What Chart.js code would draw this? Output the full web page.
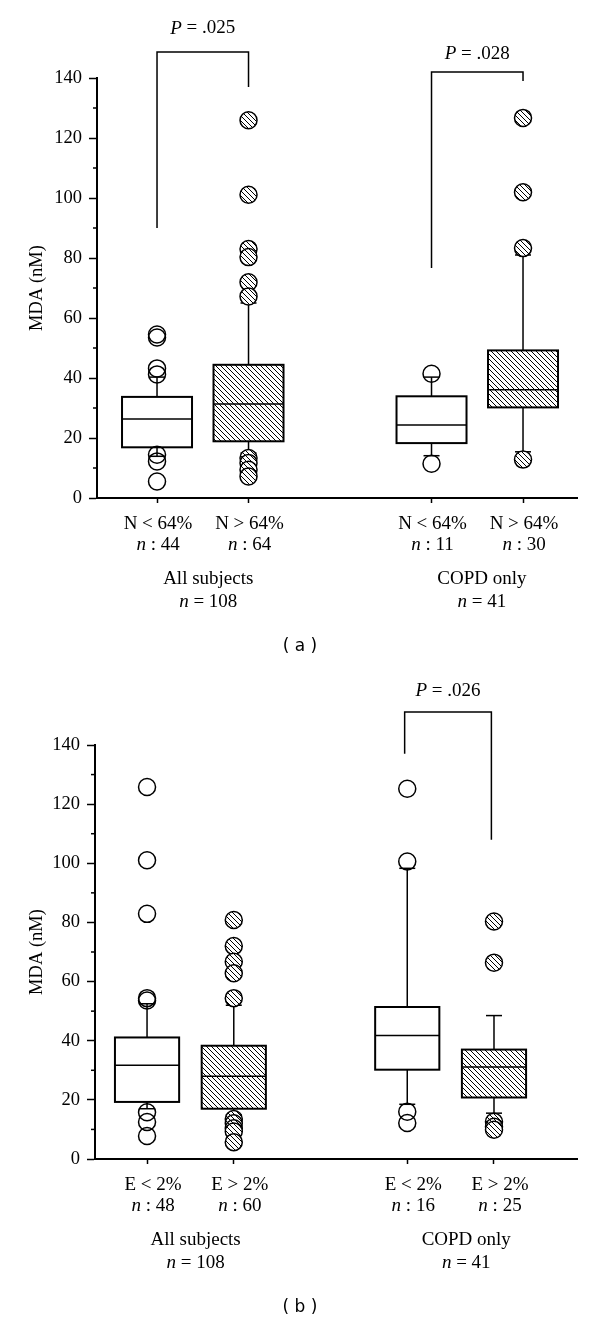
<!DOCTYPE html>
<html>
<head>
<meta charset="utf-8">
<script src="https://cdn.jsdelivr.net/npm/chart.js@4.4.1/dist/chart.umd.min.js"></script>
<style>
  html, body { margin: 0; padding: 0; background: #fff; }
  #wrap { position: relative; width: 600px; height: 1324px; }
  canvas { position: absolute; left: 0; }
</style>
</head>
<body>
<div id="wrap">
  <canvas id="chartA" width="600" height="660" style="top:0"></canvas>
  <canvas id="chartB" width="600" height="664" style="top:660px"></canvas>
</div>
<script>
// shared
const positions = [1, 2, 4, 5];
const yMajorTicks = [0, 20, 40, 60, 80, 100, 120, 140];
const groupLabels = ['All subjects', 'COPD only'];
const groupCounts = [108, 41];

// panel (a)
const catLabelsA = ['N < 64%', 'N > 64%', 'N < 64%', 'N > 64%'];
const catCountsA = [44, 64, 11, 30];
const q1A = [16.9, 18.9, 18.3, 30.2];
const medianA = [26.3, 31.3, 24.3, 36.1];
const q3A = [33.7, 44.4, 33.9, 49.2];
const whiskerLoA = [13.9, 15.0, 14.1, 15.4];
const whiskerHiA = [40.3, 65.0, 40.3, 81.0];
const outliersA = [
  [54.5, 53.5, 43.2, 41.2, 14.4, 12.2, 5.5],
  [125.9, 101.1, 83.0, 80.3, 71.9, 67.2, 13.3, 11.7, 9.4, 7.2],
  [41.4, 11.4],
  [126.7, 101.9, 83.3, 12.8]
];
const pValuesA = ['.025', '.028'];

// panel (b)
const catLabelsB = ['E < 2%', 'E > 2%', 'E < 2%', 'E > 2%'];
const catCountsB = [48, 60, 16, 25];
const q1B = [19.3, 17.0, 30.2, 20.8];
const medianB = [31.7, 28.0, 41.8, 31.1];
const q3B = [41.1, 38.3, 51.4, 37.0];
const whiskerLoB = [17.0, 15.0, 18.5, 15.5];
const whiskerHiB = [52.5, 52.0, 98.3, 48.5];
const outliersB = [
  [125.8, 101.0, 82.9, 54.4, 53.6, 15.8, 12.5, 7.8],
  [80.8, 72.0, 66.7, 62.8, 54.4, 13.5, 12.1, 10.4, 9.3, 5.7],
  [125.2, 100.6, 16.0, 12.2],
  [80.3, 66.4, 12.6, 10.9, 9.9]
];
const pValuesB = ['.026'];

const SERIF = '"Liberation Serif", "Times New Roman", serif';
Chart.defaults.color = '#000';

function makeHatch() {
    const c = document.createElement('canvas');
    c.width = 5; c.height = 5;
    const g = c.getContext('2d');
    g.fillStyle = '#fff';
    g.fillRect(0, 0, 5, 5);
    g.strokeStyle = '#000';
    g.lineWidth = 1;
    g.beginPath();
    g.moveTo(-1, -1); g.lineTo(6, 6);
    g.moveTo(4, -1); g.lineTo(6, 1);
    g.moveTo(-1, 4); g.lineTo(1, 6);
    g.stroke();
    return g.createPattern(c, 'repeat');
}
const hatch = makeHatch();

function line(ctx, x1, y1, x2, y2) {
    ctx.beginPath();
    ctx.moveTo(x1, y1);
    ctx.lineTo(x2, y2);
    ctx.stroke();
}

// draws text made of [text, font] pieces centred on cx
function drawMixed(ctx, parts, cx, cy) {
    let total = 0;
    parts.forEach(([t, f]) => { ctx.font = f; total += ctx.measureText(t).width; });
    let x = cx - total / 2;
    ctx.textAlign = 'left';
    ctx.textBaseline = 'middle';
    parts.forEach(([t, f]) => {
        ctx.font = f;
        ctx.fillText(t, x, cy);
        x += ctx.measureText(t).width;
    });
}

function boxPlugin(p) {
    return {
        id: 'boxes',
        beforeDatasetsDraw(chart) {
            const ctx = chart.ctx;
            const xs = chart.scales.x, ys = chart.scales.y;
            ctx.save();
            ctx.strokeStyle = '#000';
            positions.forEach((pos, i) => {
                const x = xs.getPixelForValue(pos);
                const left = xs.getPixelForValue(pos - p.boxWidth / 2);
                const right = xs.getPixelForValue(pos + p.boxWidth / 2);
                const yq1 = ys.getPixelForValue(p.q1[i]);
                const yq3 = ys.getPixelForValue(p.q3[i]);
                const ymed = ys.getPixelForValue(p.median[i]);
                const ylo = ys.getPixelForValue(p.lo[i]);
                const yhi = ys.getPixelForValue(p.hi[i]);
                ctx.lineWidth = 1.5;
                line(ctx, x, yq3, x, yhi);
                line(ctx, x, yq1, x, ylo);
                line(ctx, x - 8, yhi, x + 8, yhi);
                line(ctx, x - 8, ylo, x + 8, ylo);
                ctx.fillStyle = i % 2 ? hatch : '#fff';
                ctx.fillRect(left, yq3, right - left, yq1 - yq3);
                ctx.lineWidth = 2;
                ctx.strokeRect(left, yq3, right - left, yq1 - yq3);
                ctx.lineWidth = 1.5;
                line(ctx, left, ymed, right, ymed);
            });
            ctx.restore();
        },
        afterDraw(chart) {
            const ctx = chart.ctx;
            const xs = chart.scales.x, ys = chart.scales.y;
            const bottom = chart.chartArea.bottom;
            const roman = '19px ' + SERIF, ital = 'italic 19px ' + SERIF;
            ctx.save();
            ctx.fillStyle = '#000';
            ctx.strokeStyle = '#000';

            // minor y ticks
            ctx.lineWidth = 1.5;
            ys.ticks.forEach(t => {
                if (!yMajorTicks.includes(t.value)) {
                    const y = ys.getPixelForValue(t.value);
                    line(ctx, xs.left - 4, y, xs.left, y);
                }
            });

            // category labels
            positions.forEach((pos, i) => {
                const x = xs.getPixelForValue(pos) + p.labelShift;
                drawMixed(ctx, [[p.labels[i], roman]], x, bottom + 26);
                drawMixed(ctx, [['n', ital], [' : ' + p.counts[i], roman]], x, bottom + 47);
            });
            groupLabels.forEach((g, i) => {
                const x = xs.getPixelForValue(p.groupPos[i]);
                drawMixed(ctx, [[g, roman]], x, bottom + 81);
                drawMixed(ctx, [['n', ital], [' = ' + groupCounts[i], roman]], x, bottom + 104);
            });
            drawMixed(ctx, [[p.panel, '17px "DejaVu Sans", sans-serif']], 300, bottom + 149);

            // significance brackets
            ctx.lineWidth = 1.5;
            p.brackets.forEach((b, i) => {
                const x1 = xs.getPixelForValue(b.from), x2 = xs.getPixelForValue(b.to);
                const yt = ys.getPixelForValue(b.top);
                ctx.beginPath();
                ctx.moveTo(x1, ys.getPixelForValue(b.leftEnd));
                ctx.lineTo(x1, yt);
                ctx.lineTo(x2, yt);
                ctx.lineTo(x2, ys.getPixelForValue(b.rightEnd));
                ctx.stroke();
                drawMixed(ctx, [['P', ital], [' = ' + p.pValues[i], roman]],
                    (x1 + x2) / 2, ys.getPixelForValue(b.text));
            });
            ctx.restore();
        }
    };
}

function outlierData(list, idx) {
    const pts = [];
    idx.forEach(i => list[i].forEach(v => pts.push({ x: positions[i], y: v })));
    return pts;
}

function makePanel(id, p) {
    const point = {
        pointRadius: 8.5,
        pointHoverRadius: 8.5,
        pointBorderWidth: 1.5,
        pointBorderColor: '#000',
        clip: false
    };
    return new Chart(document.getElementById(id), {
        type: 'scatter',
        data: {
            datasets: [
                Object.assign({ data: outlierData(p.outliers, [0, 2]), pointBackgroundColor: 'rgba(0,0,0,0)' }, point),
                Object.assign({ data: outlierData(p.outliers, [1, 3]), pointBackgroundColor: hatch }, point)
            ]
        },
        options: {
            responsive: false,
            animation: false,
            devicePixelRatio: 1,
            events: [],
            layout: { padding: { left: 0, right: 23, top: p.top, bottom: 0 } },
            plugins: { legend: { display: false }, tooltip: { enabled: false } },
            scales: {
                x: {
                    type: 'linear',
                    min: p.xMin,
                    max: p.xMax,
                    afterBuildTicks: s => { s.ticks = positions.map(v => ({ value: v })); },
                    ticks: { display: false },
                    grid: { drawOnChartArea: false, tickLength: 5, tickWidth: 1.5, tickColor: '#000' },
                    border: { color: '#000', width: 2 },
                    afterFit: s => { s.height = p.xHeight; }
                },
                y: {
                    type: 'linear',
                    min: 0,
                    max: 140,
                    ticks: {
                        stepSize: 10,
                        autoSkip: false,
                        padding: 7,
                        color: '#000',
                        font: { family: SERIF, size: 18.5 },
                        callback: v => yMajorTicks.includes(v) ? String(v) : ''
                    },
                    grid: {
                        drawOnChartArea: false,
                        tickLength: 8,
                        tickWidth: 1.5,
                        tickColor: c => yMajorTicks.includes(c.tick.value) ? '#000' : 'rgba(0,0,0,0)'
                    },
                    border: { color: '#000', width: 2 },
                    title: {
                        display: true,
                        text: 'MDA (nM)',
                        color: '#000',
                        font: { family: SERIF, size: 18.5 },
                        padding: { top: 26, bottom: 0 }
                    },
                    afterFit: s => { s.width = p.yWidth; }
                }
            }
        },
        plugins: [boxPlugin(p)]
    });
}

makePanel('chartA', {
    labels: catLabelsA, counts: catCountsA,
    q1: q1A, median: medianA, q3: q3A, lo: whiskerLoA, hi: whiskerHiA,
    outliers: outliersA, pValues: pValuesA,
    panel: '( a )',
    brackets: [
        { from: 1, to: 2, leftEnd: 90, rightEnd: 137, top: 148.7, text: 156.5 },
        { from: 4, to: 5, leftEnd: 76.7, rightEnd: 139, top: 142, text: 148 }
    ],
    xMin: 0.344, xMax: 5.59, boxWidth: 0.765,
    groupPos: [1.56, 4.55], labelShift: 1,
    top: 78, xHeight: 162, yWidth: 97
});

makePanel('chartB', {
    labels: catLabelsB, counts: catCountsB,
    q1: q1B, median: medianB, q3: q3B, lo: whiskerLoB, hi: whiskerHiB,
    outliers: outliersB, pValues: pValuesB,
    panel: '( b )',
    brackets: [
        { from: 3.97, to: 4.97, leftEnd: 137, rightEnd: 108, top: 151.2, text: 158.3 }
    ],
    xMin: 0.40, xMax: 5.957, boxWidth: 0.74,
    groupPos: [1.56, 4.68], labelShift: 6,
    top: 85, xHeight: 165, yWidth: 95
});
</script>
</body>
</html>
